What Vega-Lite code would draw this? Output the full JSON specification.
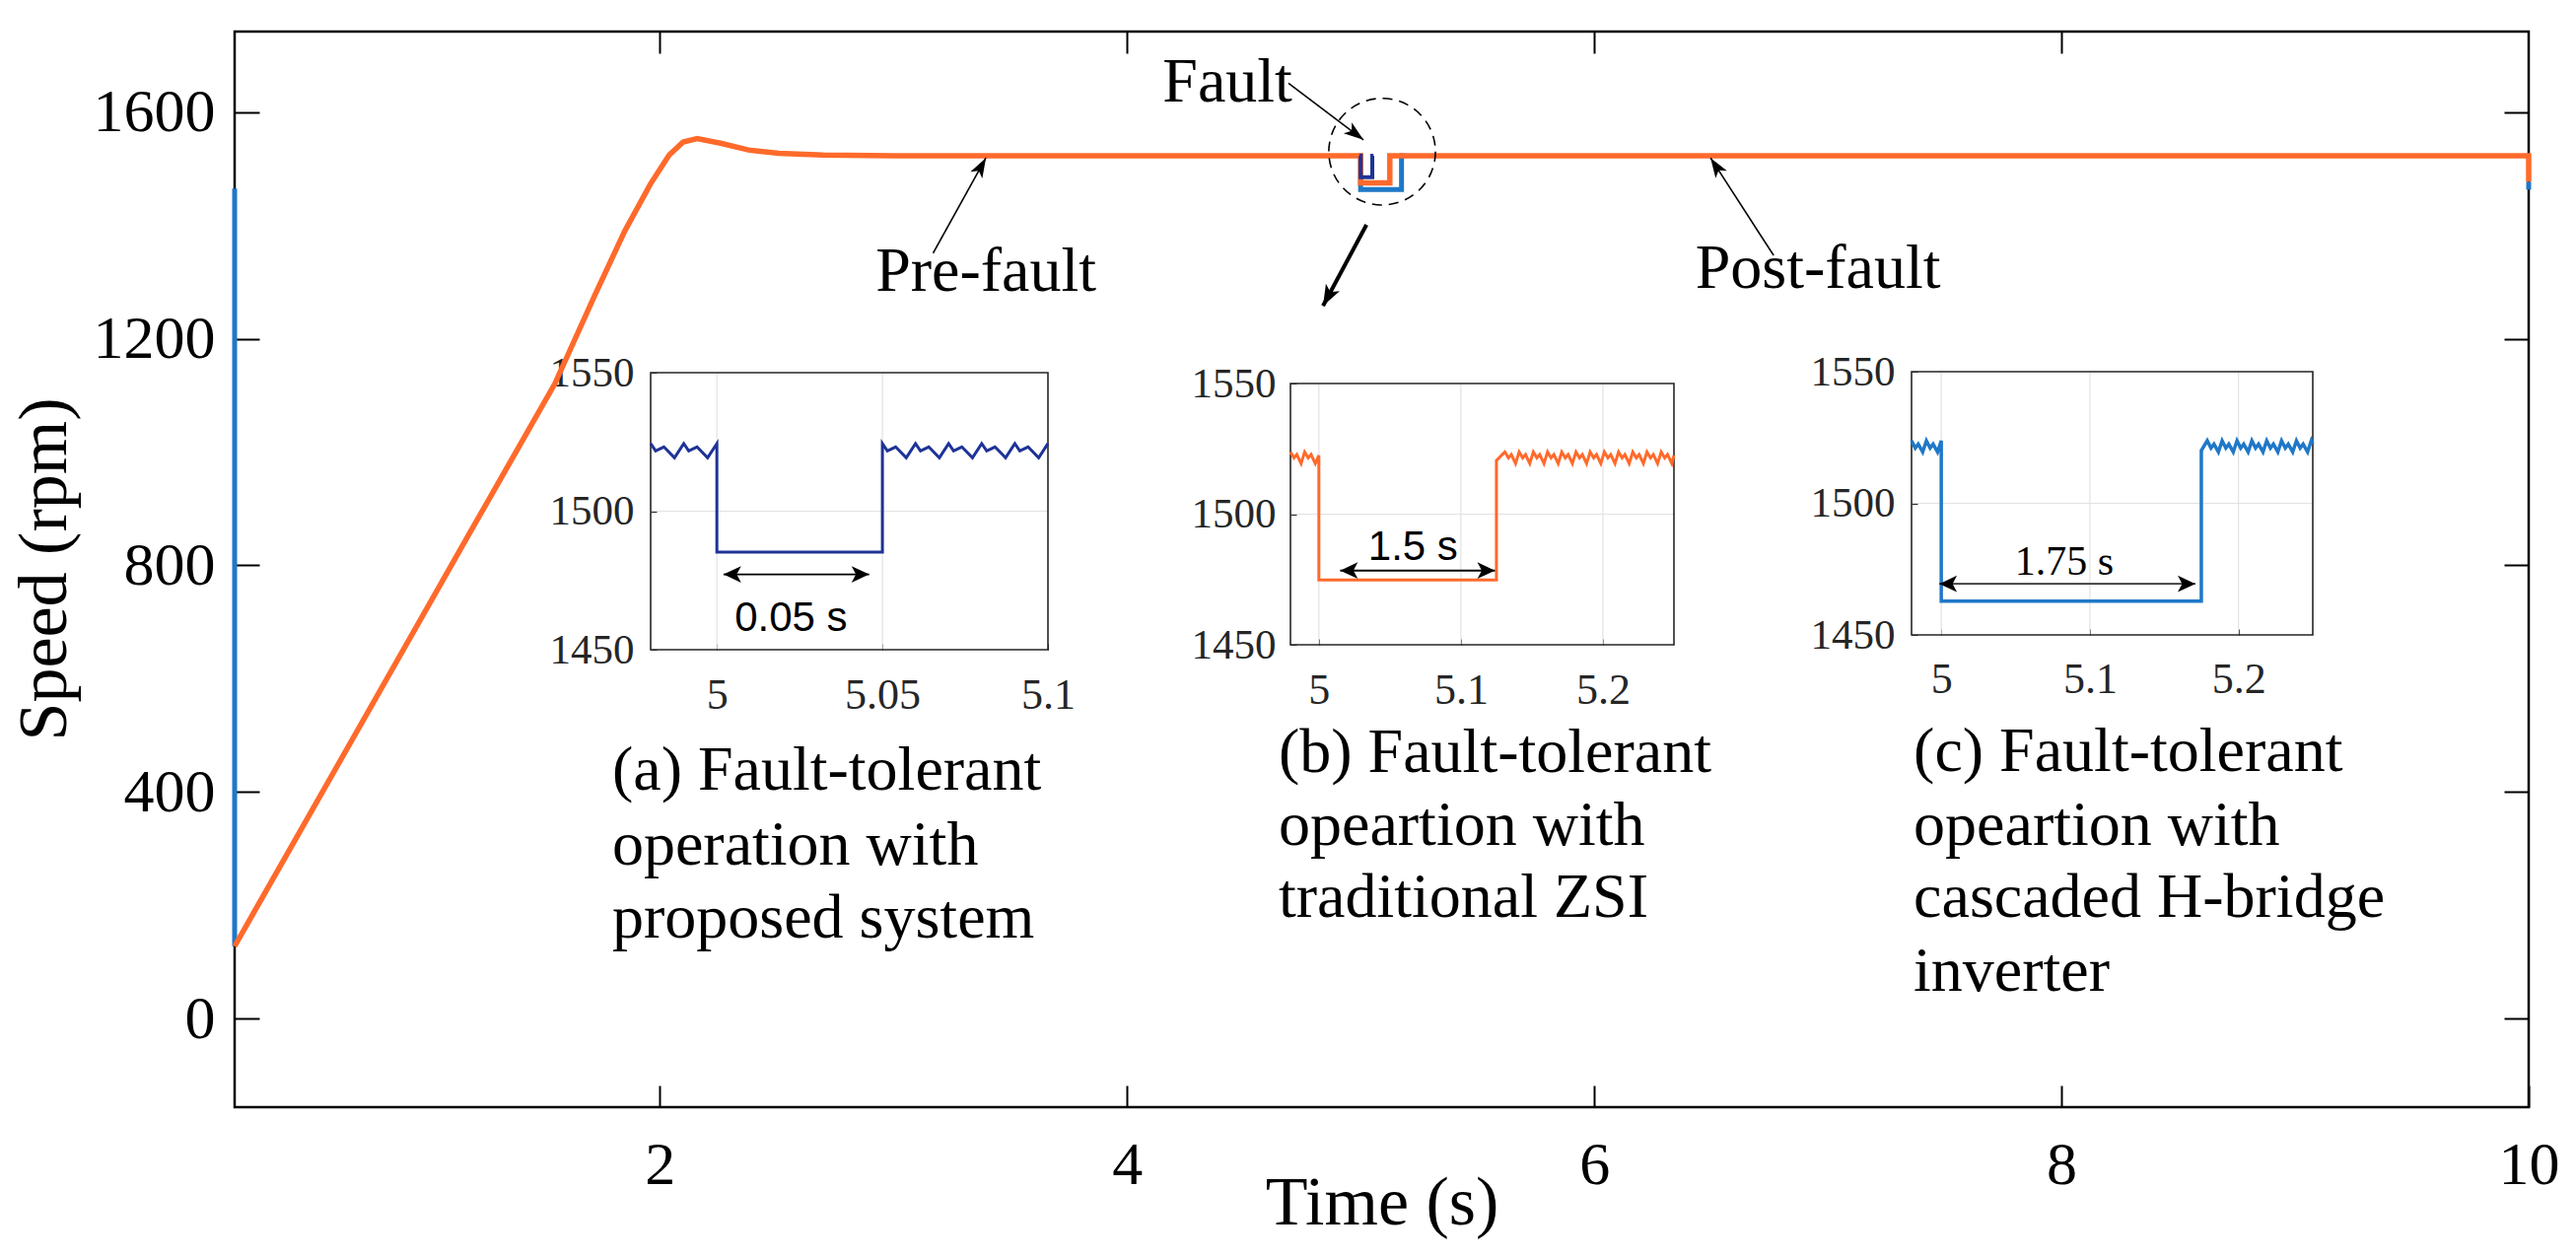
{
  "$schema": "https://vega.github.io/schema/vega-lite/v6.json",
  "width": 2327,
  "height": 1091,
  "autosize": {"type": "none"},
  "padding": {"left": 238, "top": 32, "right": 48, "bottom": 153},
  "background": "white",
  "config": {"view": {"stroke": "#000000", "strokeWidth": 2.5}, "font": "Liberation Serif"},
  "datasets": {
    "curves": [
      {"s":"Z","g":"z","i":0,"t":0.18,"v":128},
      {"s":"Z","g":"z","i":1,"t":0.8,"v":577},
      {"s":"Z","g":"z","i":2,"t":1.2,"v":867},
      {"s":"Z","g":"z","i":3,"t":1.55,"v":1120},
      {"s":"Z","g":"z","i":4,"t":1.72,"v":1275},
      {"s":"Z","g":"z","i":5,"t":1.85,"v":1390},
      {"s":"Z","g":"z","i":6,"t":1.96,"v":1473},
      {"s":"Z","g":"z","i":7,"t":2.04,"v":1524},
      {"s":"Z","g":"z","i":8,"t":2.1,"v":1547},
      {"s":"Z","g":"z","i":9,"t":2.16,"v":1553},
      {"s":"Z","g":"z","i":10,"t":2.26,"v":1545},
      {"s":"Z","g":"z","i":11,"t":2.38,"v":1533},
      {"s":"Z","g":"z","i":12,"t":2.51,"v":1527},
      {"s":"Z","g":"z","i":13,"t":2.7,"v":1524},
      {"s":"Z","g":"z","i":14,"t":3.0,"v":1523},
      {"s":"Z","g":"z","i":15,"t":4.0,"v":1523},
      {"s":"Z","g":"z","i":16,"t":5.0,"v":1523},
      {"s":"Z","g":"z","i":17,"t":5.0,"v":1475},
      {"s":"Z","g":"z","i":18,"t":5.125,"v":1475},
      {"s":"Z","g":"z","i":19,"t":5.125,"v":1523},
      {"s":"Z","g":"z","i":20,"t":7.0,"v":1523},
      {"s":"Z","g":"z","i":21,"t":10.0,"v":1523},
      {"s":"Z","g":"z","i":22,"t":10.0,"v":1477},
      {"s":"C","g":"c1","i":0,"t":0.18,"v":1465},
      {"s":"C","g":"c1","i":1,"t":0.18,"v":128},
      {"s":"C","g":"c2","i":0,"t":4.99,"v":1523},
      {"s":"C","g":"c2","i":1,"t":5.0,"v":1523},
      {"s":"C","g":"c2","i":2,"t":5.0,"v":1463},
      {"s":"C","g":"c2","i":3,"t":5.175,"v":1463},
      {"s":"C","g":"c2","i":4,"t":5.175,"v":1523},
      {"s":"C","g":"c2","i":5,"t":5.19,"v":1523},
      {"s":"C","g":"c3","i":0,"t":10.0,"v":1477},
      {"s":"C","g":"c3","i":1,"t":10.0,"v":1463},
      {"s":"P","g":"p","i":0,"t":4.995,"v":1523},
      {"s":"P","g":"p","i":1,"t":5.0,"v":1523},
      {"s":"P","g":"p","i":2,"t":5.0,"v":1485},
      {"s":"P","g":"p","i":3,"t":5.05,"v":1485},
      {"s":"P","g":"p","i":4,"t":5.05,"v":1523},
      {"s":"P","g":"p","i":5,"t":5.055,"v":1523}
    ],
    "arrows": [
      {"k":"pre","t1":3.170,"v1":1351,"t2":3.396,"v2":1519},
      {"k":"post","t1":6.768,"v1":1347,"t2":6.498,"v2":1519},
      {"k":"fault","t1":4.691,"v1":1651,"t2":5.012,"v2":1551},
      {"k":"zoom","t1":5.025,"v1":1401,"t2":4.839,"v2":1258}
    ],
    "circ": [{"t":5.092,"v":1530}],
    "notes": [
      {"t":3.396,"v":1284,"label":"Pre-fault"},
      {"t":6.958,"v":1290,"label":"Post-fault"},
      {"t":4.43,"v":1618,"label":"Fault"}
    ],
    "captions": [
      {"t":1.796,"v":404,"label":"(a) Fault-tolerant"},
      {"t":1.796,"v":272,"label":"operation with"},
      {"t":1.796,"v":143,"label":"proposed system"},
      {"t":4.649,"v":435,"label":"(b) Fault-tolerant"},
      {"t":4.649,"v":306,"label":"opeartion with"},
      {"t":4.649,"v":179,"label":"traditional ZSI"},
      {"t":7.367,"v":437,"label":"(c) Fault-tolerant"},
      {"t":7.367,"v":306,"label":"opeartion with"},
      {"t":7.367,"v":179,"label":"cascaded H-bridge"},
      {"t":7.367,"v":49,"label":"inverter"}
    ],
    "boxes": [
      {"p":"a","x1":4.98,"x2":5.1,"y1":1450,"y2":1550},
      {"p":"b","x1":4.98,"x2":5.25,"y1":1450,"y2":1550},
      {"p":"c","x1":4.98,"x2":5.25,"y1":1450,"y2":1550}
    ],
    "gridx": [
      {"p":"a","gx":5.0},{"p":"a","gx":5.05},
      {"p":"b","gx":5.0},{"p":"b","gx":5.1},{"p":"b","gx":5.2},
      {"p":"c","gx":5.0},{"p":"c","gx":5.1},{"p":"c","gx":5.2}
    ],
    "gridy": [
      {"p":"a","gy":1500},{"p":"b","gy":1500},{"p":"c","gy":1500}
    ],
    "spans": [
      {"p":"a","t1":5.002,"t2":5.046,"v":1477.2,"label":"0.05 s","lt":5.0224,"lv":1456.8},
      {"p":"b","t1":5.015,"t2":5.124,"v":1478.4,"label":"1.5 s","lt":5.0663,"lv":1482.3},
      {"p":"c","t1":4.9987,"t2":5.171,"v":1469.4,"label":"1.75 s","lt":5.0828,"lv":1473}
    ],
    "ia": [
      {"i":0,"t":4.98,"v":1524.4},{"i":1,"t":4.9815,"v":1521.8},{"i":2,"t":4.984,"v":1523.2},{"i":3,"t":4.9872,"v":1519.3},
      {"i":4,"t":4.99,"v":1524.4},{"i":5,"t":4.9915,"v":1521.8},{"i":6,"t":4.994,"v":1523.2},{"i":7,"t":4.9972,"v":1519.3},
      {"i":8,"t":5.0,"v":1524.4},{"i":9,"t":5.0,"v":1485.2},{"i":10,"t":5.05,"v":1485.2},{"i":11,"t":5.05,"v":1524.4},
      {"i":12,"t":5.0515,"v":1521.8},{"i":13,"t":5.054,"v":1523.2},{"i":14,"t":5.0572,"v":1519.3},
      {"i":15,"t":5.06,"v":1524.4},{"i":16,"t":5.0615,"v":1521.8},{"i":17,"t":5.064,"v":1523.2},{"i":18,"t":5.0672,"v":1519.3},
      {"i":19,"t":5.07,"v":1524.4},{"i":20,"t":5.0715,"v":1521.8},{"i":21,"t":5.074,"v":1523.2},{"i":22,"t":5.0772,"v":1519.3},
      {"i":23,"t":5.08,"v":1524.4},{"i":24,"t":5.0815,"v":1521.8},{"i":25,"t":5.084,"v":1523.2},{"i":26,"t":5.0872,"v":1519.3},
      {"i":27,"t":5.09,"v":1524.4},{"i":28,"t":5.0915,"v":1521.8},{"i":29,"t":5.094,"v":1523.2},{"i":30,"t":5.0972,"v":1519.3},
      {"i":31,"t":5.1,"v":1524.4}
    ],
    "ib": [
      {"i":0,"t":4.98,"v":1523.8},{"i":1,"t":4.9825,"v":1521.5},{"i":2,"t":4.9845,"v":1522.8},{"i":3,"t":4.9875,"v":1519.4},
      {"i":4,"t":4.99,"v":1523.8},{"i":5,"t":4.9925,"v":1521.5},{"i":6,"t":4.9945,"v":1522.8},{"i":7,"t":4.9975,"v":1519.4},
      {"i":8,"t":5.0,"v":1522.5},{"i":9,"t":5.0,"v":1474.8},{"i":10,"t":5.125,"v":1474.8},{"i":11,"t":5.125,"v":1520.5},
      {"i":12,"t":5.131,"v":1523.8},{"i":13,"t":5.1335,"v":1521.5},{"i":14,"t":5.1355,"v":1522.8},{"i":15,"t":5.1385,"v":1519.4},
      {"i":16,"t":5.141,"v":1523.8},{"i":17,"t":5.1435,"v":1521.5},{"i":18,"t":5.1455,"v":1522.8},{"i":19,"t":5.1485,"v":1519.4},
      {"i":20,"t":5.151,"v":1523.8},{"i":21,"t":5.1535,"v":1521.5},{"i":22,"t":5.1555,"v":1522.8},{"i":23,"t":5.1585,"v":1519.4},
      {"i":24,"t":5.161,"v":1523.8},{"i":25,"t":5.1635,"v":1521.5},{"i":26,"t":5.1655,"v":1522.8},{"i":27,"t":5.1685,"v":1519.4},
      {"i":28,"t":5.171,"v":1523.8},{"i":29,"t":5.1735,"v":1521.5},{"i":30,"t":5.1755,"v":1522.8},{"i":31,"t":5.1785,"v":1519.4},
      {"i":32,"t":5.181,"v":1523.8},{"i":33,"t":5.1835,"v":1521.5},{"i":34,"t":5.1855,"v":1522.8},{"i":35,"t":5.1885,"v":1519.4},
      {"i":36,"t":5.191,"v":1523.8},{"i":37,"t":5.1935,"v":1521.5},{"i":38,"t":5.1955,"v":1522.8},{"i":39,"t":5.1985,"v":1519.4},
      {"i":40,"t":5.201,"v":1523.8},{"i":41,"t":5.2035,"v":1521.5},{"i":42,"t":5.2055,"v":1522.8},{"i":43,"t":5.2085,"v":1519.4},
      {"i":44,"t":5.211,"v":1523.8},{"i":45,"t":5.2135,"v":1521.5},{"i":46,"t":5.2155,"v":1522.8},{"i":47,"t":5.2185,"v":1519.4},
      {"i":48,"t":5.221,"v":1523.8},{"i":49,"t":5.2235,"v":1521.5},{"i":50,"t":5.2255,"v":1522.8},{"i":51,"t":5.2285,"v":1519.4},
      {"i":52,"t":5.231,"v":1523.8},{"i":53,"t":5.2335,"v":1521.5},{"i":54,"t":5.2355,"v":1522.8},{"i":55,"t":5.2385,"v":1519.4},
      {"i":56,"t":5.241,"v":1523.8},{"i":57,"t":5.2435,"v":1521.5},{"i":58,"t":5.2455,"v":1522.8},{"i":59,"t":5.2485,"v":1519.4},
      {"i":60,"t":5.25,"v":1522.5}
    ],
    "ic": [
      {"i":0,"t":4.98,"v":1523.8},{"i":1,"t":4.9825,"v":1521.0},{"i":2,"t":4.9845,"v":1522.5},{"i":3,"t":4.9875,"v":1519.5},
      {"i":4,"t":4.99,"v":1523.8},{"i":5,"t":4.9925,"v":1521.0},{"i":6,"t":4.9945,"v":1522.5},{"i":7,"t":4.9975,"v":1519.5},
      {"i":8,"t":5.0,"v":1523.8},{"i":9,"t":5.0,"v":1462.8},{"i":10,"t":5.175,"v":1462.8},{"i":11,"t":5.175,"v":1520.0},
      {"i":12,"t":5.179,"v":1523.8},{"i":13,"t":5.1815,"v":1521.0},{"i":14,"t":5.1835,"v":1522.5},{"i":15,"t":5.1865,"v":1519.5},
      {"i":16,"t":5.189,"v":1523.8},{"i":17,"t":5.1915,"v":1521.0},{"i":18,"t":5.1935,"v":1522.5},{"i":19,"t":5.1965,"v":1519.5},
      {"i":20,"t":5.199,"v":1523.8},{"i":21,"t":5.2015,"v":1521.0},{"i":22,"t":5.2035,"v":1522.5},{"i":23,"t":5.2065,"v":1519.5},
      {"i":24,"t":5.209,"v":1523.8},{"i":25,"t":5.2115,"v":1521.0},{"i":26,"t":5.2135,"v":1522.5},{"i":27,"t":5.2165,"v":1519.5},
      {"i":28,"t":5.219,"v":1523.8},{"i":29,"t":5.2215,"v":1521.0},{"i":30,"t":5.2235,"v":1522.5},{"i":31,"t":5.2265,"v":1519.5},
      {"i":32,"t":5.229,"v":1523.8},{"i":33,"t":5.2315,"v":1521.0},{"i":34,"t":5.2335,"v":1522.5},{"i":35,"t":5.2365,"v":1519.5},
      {"i":36,"t":5.239,"v":1523.8},{"i":37,"t":5.2415,"v":1521.0},{"i":38,"t":5.2435,"v":1522.5},{"i":39,"t":5.2465,"v":1519.5},
      {"i":40,"t":5.249,"v":1523.8},{"i":41,"t":5.25,"v":1522.5}
    ]
  },
  "resolve": {"scale": {"x": "independent", "y": "independent"}, "axis": {"x": "independent", "y": "independent"}},
  "layer": [
    {
      "layer": [
        {
          "data": {"name": "curves"},
          "transform": [{"filter": "datum.s === 'C'"}],
          "mark": {"type": "line", "color": "#1F78C8", "strokeWidth": 5},
          "encoding": {
            "x": {"field": "t", "type": "quantitative", "scale": {"domain": [0.18, 10], "zero": false, "nice": false},
              "axis": {"orient": "bottom", "values": [2, 4, 6, 8, 10], "format": "d", "labelFont": "Liberation Serif", "labelFontSize": 62, "labelColor": "#000000", "labelPadding": 50, "labelFlush": false, "labelOverlap": false, "tickSize": -22, "tickWidth": 2, "tickColor": "#000000", "domain": false, "grid": false,
                "title": "Time (s)", "titleFont": "Liberation Serif", "titleFontSize": 70, "titleFontWeight": "normal", "titleColor": "#000000", "titleY": 118, "titleBaseline": "alphabetic"}},
            "y": {"field": "v", "type": "quantitative", "scale": {"domain": [-156, 1742], "zero": false, "nice": false},
              "axis": {"orient": "left", "values": [0, 400, 800, 1200, 1600], "format": "d", "labelFont": "Liberation Serif", "labelFontSize": 62, "labelColor": "#000000", "labelPadding": 45, "labelFlush": false, "labelOverlap": false, "tickSize": -25, "tickWidth": 2, "tickColor": "#000000", "domain": false, "grid": false,
                "title": "Speed (rpm)", "titleFont": "Liberation Serif", "titleFontSize": 70, "titleFontWeight": "normal", "titleColor": "#000000", "titleX": -172, "titleY": 545, "titleAngle": 270, "titleBaseline": "alphabetic", "titleAlign": "center"}},
            "detail": {"field": "g", "type": "nominal"},
            "order": {"field": "i", "type": "quantitative"}
          }
        },
        {
          "data": {"name": "curves"},
          "transform": [{"filter": "datum.s === 'Z'"}],
          "mark": {"type": "line", "color": "#FF6A2B", "strokeWidth": 5.5},
          "encoding": {
            "x": {"field": "t", "type": "quantitative", "scale": {"domain": [0.18, 10], "zero": false, "nice": false}},
            "y": {"field": "v", "type": "quantitative", "scale": {"domain": [-156, 1742], "zero": false, "nice": false}},
            "detail": {"field": "g", "type": "nominal"},
            "order": {"field": "i", "type": "quantitative"}
          }
        },
        {
          "data": {"name": "curves"},
          "transform": [{"filter": "datum.s === 'P'"}],
          "mark": {"type": "line", "color": "#1E3397", "strokeWidth": 4},
          "encoding": {
            "x": {"field": "t", "type": "quantitative", "scale": {"domain": [0.18, 10], "zero": false, "nice": false}},
            "y": {"field": "v", "type": "quantitative", "scale": {"domain": [-156, 1742], "zero": false, "nice": false}},
            "detail": {"field": "g", "type": "nominal"},
            "order": {"field": "i", "type": "quantitative"}
          }
        },
        {
          "data": {"name": "circ"},
          "mark": {"type": "point", "shape": "circle", "size": 11700, "filled": false, "stroke": "#000000", "strokeWidth": 1.6, "strokeDash": [10, 7], "opacity": 1},
          "encoding": {
            "x": {"field": "t", "type": "quantitative", "scale": {"domain": [0.18, 10], "zero": false, "nice": false}},
            "y": {"field": "v", "type": "quantitative", "scale": {"domain": [-156, 1742], "zero": false, "nice": false}}
          }
        },
        {
          "data": {"name": "arrows"},
          "transform": [{"filter": "datum.k !== 'zoom'"}],
          "mark": {"type": "rule", "color": "#000000", "strokeWidth": 1.6},
          "encoding": {
            "x": {"field": "t1", "type": "quantitative", "scale": {"domain": [0.18, 10], "zero": false, "nice": false}},
            "y": {"field": "v1", "type": "quantitative", "scale": {"domain": [-156, 1742], "zero": false, "nice": false}},
            "x2": {"field": "t2"},
            "y2": {"field": "v2"}
          }
        },
        {
          "data": {"name": "arrows"},
          "transform": [{"filter": "datum.k === 'zoom'"}],
          "mark": {"type": "rule", "color": "#000000", "strokeWidth": 4},
          "encoding": {
            "x": {"field": "t1", "type": "quantitative", "scale": {"domain": [0.18, 10], "zero": false, "nice": false}},
            "y": {"field": "v1", "type": "quantitative", "scale": {"domain": [-156, 1742], "zero": false, "nice": false}},
            "x2": {"field": "t2"},
            "y2": {"field": "v2"}
          }
        },
        {
          "data": {"name": "arrows"},
          "transform": [{"filter": "datum.k === 'pre'"}],
          "mark": {"type": "point", "shape": "M0,0L-0.55,1.6L0,1.2L0.55,1.6Z", "size": 625, "filled": true, "color": "#000000", "opacity": 1, "strokeWidth": 0, "angle": 29},
          "encoding": {
            "x": {"field": "t2", "type": "quantitative", "scale": {"domain": [0.18, 10], "zero": false, "nice": false}},
            "y": {"field": "v2", "type": "quantitative", "scale": {"domain": [-156, 1742], "zero": false, "nice": false}}
          }
        },
        {
          "data": {"name": "arrows"},
          "transform": [{"filter": "datum.k === 'post'"}],
          "mark": {"type": "point", "shape": "M0,0L-0.55,1.6L0,1.2L0.55,1.6Z", "size": 625, "filled": true, "color": "#000000", "opacity": 1, "strokeWidth": 0, "angle": -33},
          "encoding": {
            "x": {"field": "t2", "type": "quantitative", "scale": {"domain": [0.18, 10], "zero": false, "nice": false}},
            "y": {"field": "v2", "type": "quantitative", "scale": {"domain": [-156, 1742], "zero": false, "nice": false}}
          }
        },
        {
          "data": {"name": "arrows"},
          "transform": [{"filter": "datum.k === 'fault'"}],
          "mark": {"type": "point", "shape": "M0,0L-0.55,1.6L0,1.2L0.55,1.6Z", "size": 625, "filled": true, "color": "#000000", "opacity": 1, "strokeWidth": 0, "angle": 127},
          "encoding": {
            "x": {"field": "t2", "type": "quantitative", "scale": {"domain": [0.18, 10], "zero": false, "nice": false}},
            "y": {"field": "v2", "type": "quantitative", "scale": {"domain": [-156, 1742], "zero": false, "nice": false}}
          }
        },
        {
          "data": {"name": "arrows"},
          "transform": [{"filter": "datum.k === 'zoom'"}],
          "mark": {"type": "point", "shape": "M0,0L-0.6,1.6L0,1.2L0.6,1.6Z", "size": 700, "filled": true, "color": "#000000", "opacity": 1, "strokeWidth": 0, "angle": -152},
          "encoding": {
            "x": {"field": "t2", "type": "quantitative", "scale": {"domain": [0.18, 10], "zero": false, "nice": false}},
            "y": {"field": "v2", "type": "quantitative", "scale": {"domain": [-156, 1742], "zero": false, "nice": false}}
          }
        },
        {
          "data": {"name": "notes"},
          "mark": {"type": "text", "font": "Liberation Serif", "fontSize": 64, "align": "center", "baseline": "alphabetic", "color": "#000000"},
          "encoding": {
            "x": {"field": "t", "type": "quantitative", "scale": {"domain": [0.18, 10], "zero": false, "nice": false}},
            "y": {"field": "v", "type": "quantitative", "scale": {"domain": [-156, 1742], "zero": false, "nice": false}},
            "text": {"field": "label"}
          }
        },
        {
          "data": {"name": "captions"},
          "mark": {"type": "text", "font": "Liberation Serif", "fontSize": 64, "align": "left", "baseline": "alphabetic", "color": "#000000"},
          "encoding": {
            "x": {"field": "t", "type": "quantitative", "scale": {"domain": [0.18, 10], "zero": false, "nice": false}},
            "y": {"field": "v", "type": "quantitative", "scale": {"domain": [-156, 1742], "zero": false, "nice": false}},
            "text": {"field": "label"}
          }
        }
      ]
    },
    {
      "data": {"name": "curves"},
      "mark": {"type": "point", "opacity": 0},
      "encoding": {
        "x": {"field": "t", "type": "quantitative", "scale": {"domain": [0.18, 10], "zero": false, "nice": false},
          "axis": {"orient": "top", "values": [2, 4, 6, 8], "labels": false, "tickSize": -22, "tickWidth": 2, "tickColor": "#000000", "domain": false, "grid": false, "title": null}},
        "y": {"field": "v", "type": "quantitative", "scale": {"domain": [-156, 1742], "zero": false, "nice": false},
          "axis": {"orient": "right", "values": [0, 400, 800, 1200, 1600], "labels": false, "tickSize": -25, "tickWidth": 2, "tickColor": "#000000", "domain": false, "grid": false, "title": null}}
      }
    },
    {
      "layer": [
        {
          "data": {"name": "gridx"},
          "transform": [{"filter": "datum.p === 'a'"}],
          "mark": {"type": "rule", "color": "#E2E2E2", "strokeWidth": 1.2},
          "encoding": {
            "x": {"field": "gx", "type": "quantitative", "scale": {"domain": [4.98, 5.1], "range": [422, 825], "zero": false, "nice": false},
              "axis": {"orient": "bottom", "offset": -464, "values": [5, 5.05, 5.1], "format": "~g", "labelFont": "Liberation Serif", "labelFontSize": 44, "labelColor": "#262626", "labelPadding": 30, "labelFlush": false, "labelOverlap": false, "tickSize": -6, "tickWidth": 1, "tickColor": "#262626", "domain": false, "grid": false, "title": null}},
            "y": {"datum": 1450, "type": "quantitative", "scale": {"domain": [1450, 1550], "range": [627, 346], "zero": false, "nice": false},
              "axis": {"orient": "left", "offset": -422, "values": [1450, 1500, 1550], "format": "d", "labelFont": "Liberation Serif", "labelFontSize": 43, "labelColor": "#262626", "labelPadding": 23, "labelFlush": false, "labelOverlap": false, "tickSize": -6, "tickWidth": 1, "tickColor": "#262626", "domain": false, "grid": false, "title": null}},
            "y2": {"datum": 1550}
          }
        },
        {
          "data": {"name": "gridy"},
          "transform": [{"filter": "datum.p === 'a'"}],
          "mark": {"type": "rule", "color": "#E2E2E2", "strokeWidth": 1.2},
          "encoding": {
            "x": {"datum": 4.98, "type": "quantitative", "scale": {"domain": [4.98, 5.1], "range": [422, 825], "zero": false, "nice": false}},
            "x2": {"datum": 5.1},
            "y": {"field": "gy", "type": "quantitative", "scale": {"domain": [1450, 1550], "range": [627, 346], "zero": false, "nice": false}}
          }
        },
        {
          "data": {"name": "boxes"},
          "transform": [{"filter": "datum.p === 'a'"}],
          "mark": {"type": "rect", "fillOpacity": 0, "stroke": "#262626", "strokeWidth": 1.6},
          "encoding": {
            "x": {"field": "x1", "type": "quantitative", "scale": {"domain": [4.98, 5.1], "range": [422, 825], "zero": false, "nice": false}},
            "x2": {"field": "x2"},
            "y": {"field": "y1", "type": "quantitative", "scale": {"domain": [1450, 1550], "range": [627, 346], "zero": false, "nice": false}},
            "y2": {"field": "y2"}
          }
        },
        {
          "data": {"name": "ia"},
          "mark": {"type": "line", "color": "#1E3397", "strokeWidth": 3},
          "encoding": {
            "x": {"field": "t", "type": "quantitative", "scale": {"domain": [4.98, 5.1], "range": [422, 825], "zero": false, "nice": false}},
            "y": {"field": "v", "type": "quantitative", "scale": {"domain": [1450, 1550], "range": [627, 346], "zero": false, "nice": false}},
            "order": {"field": "i", "type": "quantitative"}
          }
        },
        {
          "data": {"name": "spans"},
          "transform": [{"filter": "datum.p === 'a'"}],
          "mark": {"type": "rule", "color": "#000000", "strokeWidth": 1.8},
          "encoding": {
            "x": {"field": "t1", "type": "quantitative", "scale": {"domain": [4.98, 5.1], "range": [422, 825], "zero": false, "nice": false}},
            "x2": {"field": "t2"},
            "y": {"field": "v", "type": "quantitative", "scale": {"domain": [1450, 1550], "range": [627, 346], "zero": false, "nice": false}}
          }
        },
        {
          "data": {"name": "spans"},
          "transform": [{"filter": "datum.p === 'a'"}],
          "mark": {"type": "point", "shape": "M0,0L-0.75,1.6L0,1.2L0.75,1.6Z", "size": 500, "filled": true, "color": "#000000", "opacity": 1, "strokeWidth": 0, "angle": -90},
          "encoding": {
            "x": {"field": "t1", "type": "quantitative", "scale": {"domain": [4.98, 5.1], "range": [422, 825], "zero": false, "nice": false}},
            "y": {"field": "v", "type": "quantitative", "scale": {"domain": [1450, 1550], "range": [627, 346], "zero": false, "nice": false}}
          }
        },
        {
          "data": {"name": "spans"},
          "transform": [{"filter": "datum.p === 'a'"}],
          "mark": {"type": "point", "shape": "M0,0L-0.75,1.6L0,1.2L0.75,1.6Z", "size": 500, "filled": true, "color": "#000000", "opacity": 1, "strokeWidth": 0, "angle": 90},
          "encoding": {
            "x": {"field": "t2", "type": "quantitative", "scale": {"domain": [4.98, 5.1], "range": [422, 825], "zero": false, "nice": false}},
            "y": {"field": "v", "type": "quantitative", "scale": {"domain": [1450, 1550], "range": [627, 346], "zero": false, "nice": false}}
          }
        },
        {
          "data": {"name": "spans"},
          "transform": [{"filter": "datum.p === 'a'"}],
          "mark": {"type": "text", "font": "Liberation Sans", "fontSize": 42, "align": "center", "baseline": "alphabetic", "color": "#000000"},
          "encoding": {
            "x": {"field": "lt", "type": "quantitative", "scale": {"domain": [4.98, 5.1], "range": [422, 825], "zero": false, "nice": false}},
            "y": {"field": "lv", "type": "quantitative", "scale": {"domain": [1450, 1550], "range": [627, 346], "zero": false, "nice": false}},
            "text": {"field": "label"}
          }
        }
      ]
    },
    {
      "layer": [
        {
          "data": {"name": "gridx"},
          "transform": [{"filter": "datum.p === 'b'"}],
          "mark": {"type": "rule", "color": "#E2E2E2", "strokeWidth": 1.2},
          "encoding": {
            "x": {"field": "gx", "type": "quantitative", "scale": {"domain": [4.98, 5.25], "range": [1071, 1460], "zero": false, "nice": false},
              "axis": {"orient": "bottom", "offset": -469, "values": [5, 5.1, 5.2], "format": "~g", "labelFont": "Liberation Serif", "labelFontSize": 44, "labelColor": "#262626", "labelPadding": 30, "labelFlush": false, "labelOverlap": false, "tickSize": -6, "tickWidth": 1, "tickColor": "#262626", "domain": false, "grid": false, "title": null}},
            "y": {"datum": 1450, "type": "quantitative", "scale": {"domain": [1450, 1550], "range": [622, 357], "zero": false, "nice": false},
              "axis": {"orient": "left", "offset": -1071, "values": [1450, 1500, 1550], "format": "d", "labelFont": "Liberation Serif", "labelFontSize": 43, "labelColor": "#262626", "labelPadding": 21, "labelFlush": false, "labelOverlap": false, "tickSize": -6, "tickWidth": 1, "tickColor": "#262626", "domain": false, "grid": false, "title": null}},
            "y2": {"datum": 1550}
          }
        },
        {
          "data": {"name": "gridy"},
          "transform": [{"filter": "datum.p === 'b'"}],
          "mark": {"type": "rule", "color": "#E2E2E2", "strokeWidth": 1.2},
          "encoding": {
            "x": {"datum": 4.98, "type": "quantitative", "scale": {"domain": [4.98, 5.25], "range": [1071, 1460], "zero": false, "nice": false}},
            "x2": {"datum": 5.25},
            "y": {"field": "gy", "type": "quantitative", "scale": {"domain": [1450, 1550], "range": [622, 357], "zero": false, "nice": false}}
          }
        },
        {
          "data": {"name": "boxes"},
          "transform": [{"filter": "datum.p === 'b'"}],
          "mark": {"type": "rect", "fillOpacity": 0, "stroke": "#262626", "strokeWidth": 1.6},
          "encoding": {
            "x": {"field": "x1", "type": "quantitative", "scale": {"domain": [4.98, 5.25], "range": [1071, 1460], "zero": false, "nice": false}},
            "x2": {"field": "x2"},
            "y": {"field": "y1", "type": "quantitative", "scale": {"domain": [1450, 1550], "range": [622, 357], "zero": false, "nice": false}},
            "y2": {"field": "y2"}
          }
        },
        {
          "data": {"name": "ib"},
          "mark": {"type": "line", "color": "#FF6A2B", "strokeWidth": 3},
          "encoding": {
            "x": {"field": "t", "type": "quantitative", "scale": {"domain": [4.98, 5.25], "range": [1071, 1460], "zero": false, "nice": false}},
            "y": {"field": "v", "type": "quantitative", "scale": {"domain": [1450, 1550], "range": [622, 357], "zero": false, "nice": false}},
            "order": {"field": "i", "type": "quantitative"}
          }
        },
        {
          "data": {"name": "spans"},
          "transform": [{"filter": "datum.p === 'b'"}],
          "mark": {"type": "rule", "color": "#000000", "strokeWidth": 1.8},
          "encoding": {
            "x": {"field": "t1", "type": "quantitative", "scale": {"domain": [4.98, 5.25], "range": [1071, 1460], "zero": false, "nice": false}},
            "x2": {"field": "t2"},
            "y": {"field": "v", "type": "quantitative", "scale": {"domain": [1450, 1550], "range": [622, 357], "zero": false, "nice": false}}
          }
        },
        {
          "data": {"name": "spans"},
          "transform": [{"filter": "datum.p === 'b'"}],
          "mark": {"type": "point", "shape": "M0,0L-0.75,1.6L0,1.2L0.75,1.6Z", "size": 500, "filled": true, "color": "#000000", "opacity": 1, "strokeWidth": 0, "angle": -90},
          "encoding": {
            "x": {"field": "t1", "type": "quantitative", "scale": {"domain": [4.98, 5.25], "range": [1071, 1460], "zero": false, "nice": false}},
            "y": {"field": "v", "type": "quantitative", "scale": {"domain": [1450, 1550], "range": [622, 357], "zero": false, "nice": false}}
          }
        },
        {
          "data": {"name": "spans"},
          "transform": [{"filter": "datum.p === 'b'"}],
          "mark": {"type": "point", "shape": "M0,0L-0.75,1.6L0,1.2L0.75,1.6Z", "size": 500, "filled": true, "color": "#000000", "opacity": 1, "strokeWidth": 0, "angle": 90},
          "encoding": {
            "x": {"field": "t2", "type": "quantitative", "scale": {"domain": [4.98, 5.25], "range": [1071, 1460], "zero": false, "nice": false}},
            "y": {"field": "v", "type": "quantitative", "scale": {"domain": [1450, 1550], "range": [622, 357], "zero": false, "nice": false}}
          }
        },
        {
          "data": {"name": "spans"},
          "transform": [{"filter": "datum.p === 'b'"}],
          "mark": {"type": "text", "font": "Liberation Sans", "fontSize": 42, "align": "center", "baseline": "alphabetic", "color": "#000000"},
          "encoding": {
            "x": {"field": "lt", "type": "quantitative", "scale": {"domain": [4.98, 5.25], "range": [1071, 1460], "zero": false, "nice": false}},
            "y": {"field": "lv", "type": "quantitative", "scale": {"domain": [1450, 1550], "range": [622, 357], "zero": false, "nice": false}},
            "text": {"field": "label"}
          }
        }
      ]
    },
    {
      "layer": [
        {
          "data": {"name": "gridx"},
          "transform": [{"filter": "datum.p === 'c'"}],
          "mark": {"type": "rule", "color": "#E2E2E2", "strokeWidth": 1.2},
          "encoding": {
            "x": {"field": "gx", "type": "quantitative", "scale": {"domain": [4.98, 5.25], "range": [1701, 2108], "zero": false, "nice": false},
              "axis": {"orient": "bottom", "offset": -479, "values": [5, 5.1, 5.2], "format": "~g", "labelFont": "Liberation Serif", "labelFontSize": 44, "labelColor": "#262626", "labelPadding": 29, "labelFlush": false, "labelOverlap": false, "tickSize": -6, "tickWidth": 1, "tickColor": "#262626", "domain": false, "grid": false, "title": null}},
            "y": {"datum": 1450, "type": "quantitative", "scale": {"domain": [1450, 1550], "range": [612, 345], "zero": false, "nice": false},
              "axis": {"orient": "left", "offset": -1701, "values": [1450, 1500, 1550], "format": "d", "labelFont": "Liberation Serif", "labelFontSize": 43, "labelColor": "#262626", "labelPadding": 23, "labelFlush": false, "labelOverlap": false, "tickSize": -6, "tickWidth": 1, "tickColor": "#262626", "domain": false, "grid": false, "title": null}},
            "y2": {"datum": 1550}
          }
        },
        {
          "data": {"name": "gridy"},
          "transform": [{"filter": "datum.p === 'c'"}],
          "mark": {"type": "rule", "color": "#E2E2E2", "strokeWidth": 1.2},
          "encoding": {
            "x": {"datum": 4.98, "type": "quantitative", "scale": {"domain": [4.98, 5.25], "range": [1701, 2108], "zero": false, "nice": false}},
            "x2": {"datum": 5.25},
            "y": {"field": "gy", "type": "quantitative", "scale": {"domain": [1450, 1550], "range": [612, 345], "zero": false, "nice": false}}
          }
        },
        {
          "data": {"name": "boxes"},
          "transform": [{"filter": "datum.p === 'c'"}],
          "mark": {"type": "rect", "fillOpacity": 0, "stroke": "#262626", "strokeWidth": 1.6},
          "encoding": {
            "x": {"field": "x1", "type": "quantitative", "scale": {"domain": [4.98, 5.25], "range": [1701, 2108], "zero": false, "nice": false}},
            "x2": {"field": "x2"},
            "y": {"field": "y1", "type": "quantitative", "scale": {"domain": [1450, 1550], "range": [612, 345], "zero": false, "nice": false}},
            "y2": {"field": "y2"}
          }
        },
        {
          "data": {"name": "ic"},
          "mark": {"type": "line", "color": "#1F78C8", "strokeWidth": 3.5},
          "encoding": {
            "x": {"field": "t", "type": "quantitative", "scale": {"domain": [4.98, 5.25], "range": [1701, 2108], "zero": false, "nice": false}},
            "y": {"field": "v", "type": "quantitative", "scale": {"domain": [1450, 1550], "range": [612, 345], "zero": false, "nice": false}},
            "order": {"field": "i", "type": "quantitative"}
          }
        },
        {
          "data": {"name": "spans"},
          "transform": [{"filter": "datum.p === 'c'"}],
          "mark": {"type": "rule", "color": "#333333", "strokeWidth": 1.8},
          "encoding": {
            "x": {"field": "t1", "type": "quantitative", "scale": {"domain": [4.98, 5.25], "range": [1701, 2108], "zero": false, "nice": false}},
            "x2": {"field": "t2"},
            "y": {"field": "v", "type": "quantitative", "scale": {"domain": [1450, 1550], "range": [612, 345], "zero": false, "nice": false}}
          }
        },
        {
          "data": {"name": "spans"},
          "transform": [{"filter": "datum.p === 'c'"}],
          "mark": {"type": "point", "shape": "M0,0L-0.75,1.6L0,1.2L0.75,1.6Z", "size": 500, "filled": true, "color": "#000000", "opacity": 1, "strokeWidth": 0, "angle": -90},
          "encoding": {
            "x": {"field": "t1", "type": "quantitative", "scale": {"domain": [4.98, 5.25], "range": [1701, 2108], "zero": false, "nice": false}},
            "y": {"field": "v", "type": "quantitative", "scale": {"domain": [1450, 1550], "range": [612, 345], "zero": false, "nice": false}}
          }
        },
        {
          "data": {"name": "spans"},
          "transform": [{"filter": "datum.p === 'c'"}],
          "mark": {"type": "point", "shape": "M0,0L-0.75,1.6L0,1.2L0.75,1.6Z", "size": 500, "filled": true, "color": "#000000", "opacity": 1, "strokeWidth": 0, "angle": 90},
          "encoding": {
            "x": {"field": "t2", "type": "quantitative", "scale": {"domain": [4.98, 5.25], "range": [1701, 2108], "zero": false, "nice": false}},
            "y": {"field": "v", "type": "quantitative", "scale": {"domain": [1450, 1550], "range": [612, 345], "zero": false, "nice": false}}
          }
        },
        {
          "data": {"name": "spans"},
          "transform": [{"filter": "datum.p === 'c'"}],
          "mark": {"type": "text", "font": "Liberation Serif", "fontSize": 42, "align": "center", "baseline": "alphabetic", "color": "#000000"},
          "encoding": {
            "x": {"field": "lt", "type": "quantitative", "scale": {"domain": [4.98, 5.25], "range": [1701, 2108], "zero": false, "nice": false}},
            "y": {"field": "lv", "type": "quantitative", "scale": {"domain": [1450, 1550], "range": [612, 345], "zero": false, "nice": false}},
            "text": {"field": "label"}
          }
        }
      ]
    }
  ]
}
